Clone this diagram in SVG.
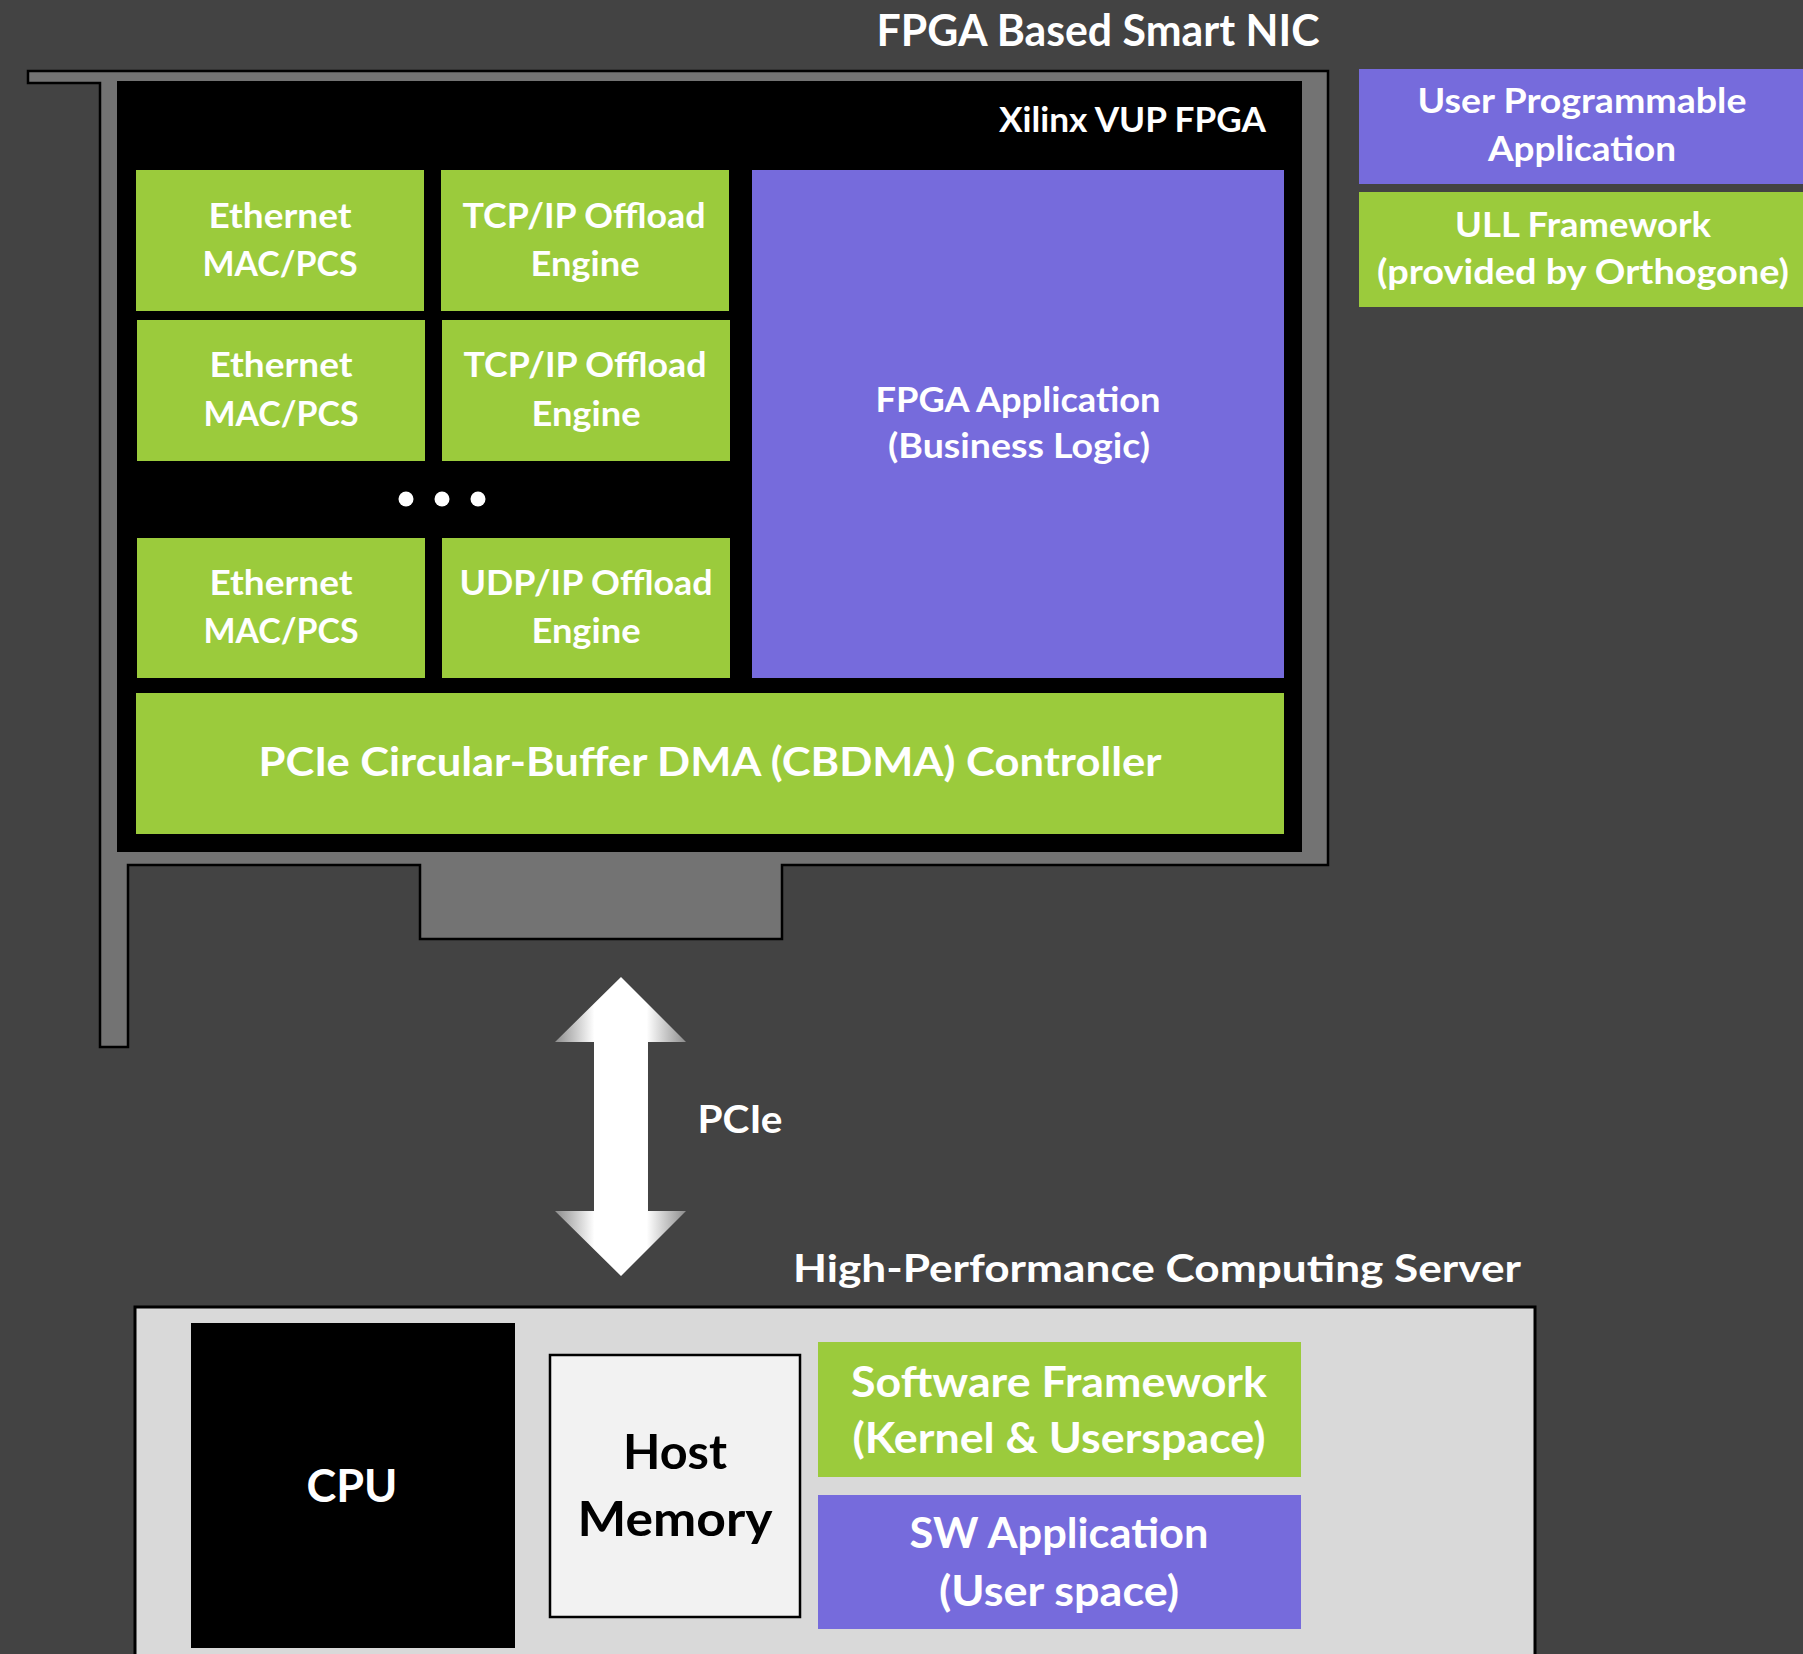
<svg xmlns="http://www.w3.org/2000/svg" width="1803" height="1654" viewBox="0 0 1803 1654">
<defs>
<style>
text{font-family:"Lato","Open Sans","Liberation Sans",sans-serif;font-weight:bold;fill:#ffffff;text-anchor:middle}
.green{fill:#9bcb3c}
.purple{fill:#766bdc}
.t34{font-size:33.5px}
.t35{font-size:35px}
.dark{fill:#000000}
</style>
<linearGradient id="arrowGrad" x1="0" y1="0" x2="1" y2="0">
<stop offset="0" stop-color="#8c8c8c"/>
<stop offset="0.3" stop-color="#ffffff"/>
<stop offset="0.7" stop-color="#ffffff"/>
<stop offset="1" stop-color="#8c8c8c"/>
</linearGradient>
</defs>
<rect x="0" y="0" width="1803" height="1654" fill="#434343"/>

<g id="title-nic"><text x="1098" y="46" font-size="43" textLength="443" lengthAdjust="spacingAndGlyphs">FPGA Based Smart NIC</text></g>

<g id="card">
<path d="M28,71 H1328 V865 H782 V939 H420 V865 H128 V1047 H100 V83 H28 Z" fill="#737373" stroke="#000" stroke-width="2.5"/>
</g>

<g id="fpga">
<rect x="117" y="81" width="1185" height="771" fill="#000"/>
<text x="1266" y="132" class="t34" style="text-anchor:end" textLength="267" lengthAdjust="spacingAndGlyphs">Xilinx VUP FPGA</text>
</g>

<g id="eth1"><rect class="green" x="136" y="170" width="288" height="141"/>
<text x="280" y="228" class="t34" textLength="143" lengthAdjust="spacingAndGlyphs">Ethernet</text>
<text x="280" y="276" class="t34" textLength="155" lengthAdjust="spacingAndGlyphs">MAC/PCS</text></g>
<g id="tcp1"><rect class="green" x="441" y="170" width="288" height="141"/>
<text x="584" y="228" class="t34" textLength="243" lengthAdjust="spacingAndGlyphs">TCP/IP Offload</text>
<text x="585" y="276" class="t34" textLength="109" lengthAdjust="spacingAndGlyphs">Engine</text></g>

<g id="eth2"><rect class="green" x="137" y="320" width="288" height="141"/>
<text x="281" y="377" class="t34" textLength="143" lengthAdjust="spacingAndGlyphs">Ethernet</text>
<text x="281" y="426" class="t34" textLength="155" lengthAdjust="spacingAndGlyphs">MAC/PCS</text></g>
<g id="tcp2"><rect class="green" x="442" y="320" width="288" height="141"/>
<text x="585" y="377" class="t34" textLength="243" lengthAdjust="spacingAndGlyphs">TCP/IP Offload</text>
<text x="586" y="426" class="t34" textLength="109" lengthAdjust="spacingAndGlyphs">Engine</text></g>

<g id="ellipsis" fill="#fff">
<circle cx="406" cy="499" r="7.5"/><circle cx="442" cy="499" r="7.5"/><circle cx="478" cy="499" r="7.5"/>
</g>

<g id="eth3"><rect class="green" x="137" y="538" width="288" height="140"/>
<text x="281" y="595" class="t34" textLength="143" lengthAdjust="spacingAndGlyphs">Ethernet</text>
<text x="281" y="643" class="t34" textLength="155" lengthAdjust="spacingAndGlyphs">MAC/PCS</text></g>
<g id="udp"><rect class="green" x="442" y="538" width="288" height="140"/>
<text x="586" y="595" class="t34" textLength="253" lengthAdjust="spacingAndGlyphs">UDP/IP Offload</text>
<text x="586" y="643" class="t34" textLength="109" lengthAdjust="spacingAndGlyphs">Engine</text></g>

<g id="fpga-app"><rect class="purple" x="752" y="170" width="532" height="508"/>
<text x="1018" y="412" class="t35" textLength="285" lengthAdjust="spacingAndGlyphs">FPGA Application</text>
<text x="1019" y="458" class="t35" textLength="262" lengthAdjust="spacingAndGlyphs">(Business Logic)</text></g>

<g id="cbdma"><rect class="green" x="136" y="693" width="1148" height="141"/>
<text x="710" y="776" font-size="40" textLength="903" lengthAdjust="spacingAndGlyphs">PCIe Circular-Buffer DMA (CBDMA) Controller</text></g>

<g id="legend-user"><rect class="purple" x="1359" y="69" width="444" height="115"/>
<text x="1582" y="113" class="t34" textLength="329" lengthAdjust="spacingAndGlyphs">User Programmable</text>
<text x="1582" y="161" class="t34" textLength="188" lengthAdjust="spacingAndGlyphs">Application</text></g>
<g id="legend-ull"><rect class="green" x="1359" y="192" width="444" height="115"/>
<text x="1583" y="237" class="t34" textLength="256" lengthAdjust="spacingAndGlyphs">ULL Framework</text>
<text x="1583" y="284" class="t34" textLength="412" lengthAdjust="spacingAndGlyphs">(provided by Orthogone)</text></g>

<g id="connectors">
<path d="M621,977 L686,1042 L648,1042 L648,1211 L686,1211 L621,1276 L555,1211 L594,1211 L594,1042 L555,1042 Z" fill="url(#arrowGrad)"/>
<text x="740" y="1133" font-size="37.7" textLength="85" lengthAdjust="spacingAndGlyphs">PCIe</text>
</g>

<g id="title-server"><text x="1157" y="1282" font-size="37.7" textLength="728" lengthAdjust="spacingAndGlyphs">High-Performance Computing Server</text></g>

<g id="server"><rect x="135" y="1307" width="1400" height="360" fill="#d9d9d9" stroke="#000" stroke-width="3"/></g>

<g id="cpu"><rect x="191" y="1323" width="324" height="325" fill="#000"/>
<text x="352" y="1502" font-size="46" textLength="91" lengthAdjust="spacingAndGlyphs">CPU</text></g>

<g id="host-memory"><rect x="550" y="1355" width="250" height="262" fill="#f2f2f2" stroke="#000" stroke-width="2.5"/>
<text x="675" y="1469" font-size="47.5" class="dark" textLength="104" lengthAdjust="spacingAndGlyphs">Host</text>
<text x="675" y="1536" font-size="47.5" class="dark" textLength="195" lengthAdjust="spacingAndGlyphs">Memory</text></g>

<g id="sw-framework"><rect class="green" x="818" y="1342" width="483" height="135"/>
<text x="1059" y="1397" font-size="42" textLength="416" lengthAdjust="spacingAndGlyphs">Software Framework</text>
<text x="1059" y="1453" font-size="42" textLength="413" lengthAdjust="spacingAndGlyphs">(Kernel &amp; Userspace)</text></g>

<g id="sw-app"><rect class="purple" x="818" y="1495" width="483" height="134"/>
<text x="1059" y="1548" font-size="42" textLength="299" lengthAdjust="spacingAndGlyphs">SW Application</text>
<text x="1059" y="1606" font-size="42" textLength="240" lengthAdjust="spacingAndGlyphs">(User space)</text></g>
</svg>
